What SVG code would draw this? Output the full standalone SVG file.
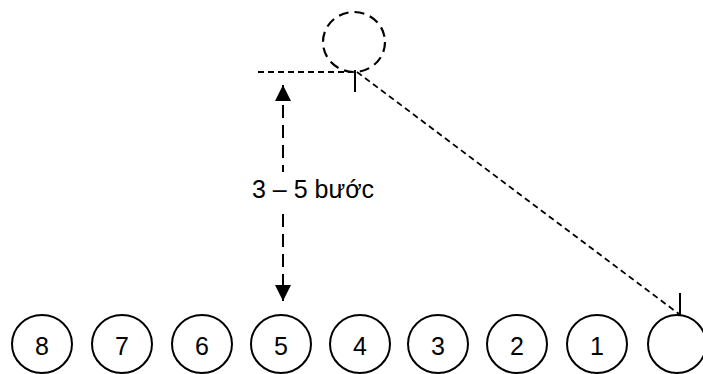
<svg xmlns="http://www.w3.org/2000/svg" width="703" height="374" viewBox="0 0 703 374">
<defs>
<style>
.n{fill:none;stroke:#000;stroke-width:2}
.t{font-family:"Liberation Sans",Arial,sans-serif;font-size:25px;fill:#000;text-anchor:middle}
.d{fill:none;stroke:#000;stroke-width:1.8;stroke-dasharray:6 4}
.v{fill:none;stroke:#000;stroke-width:2;stroke-dasharray:13 7}
.k{stroke:#000;stroke-width:2}
</style>
<marker id="ah" viewBox="0 0 16 16" refX="16" refY="8" markerWidth="16" markerHeight="16" markerUnits="userSpaceOnUse" orient="auto-start-reverse">
<path d="M0,0 L16,8 L0,16 Z" fill="#000"/>
</marker>
</defs>
<rect width="703" height="374" fill="#fff"/>
<g id="node-top"><ellipse cx="354" cy="42" rx="31" ry="30" fill="none" stroke="#000" stroke-width="2.2" stroke-dasharray="10 6"/></g>
<g id="node-8"><ellipse class="n" cx="42" cy="344" rx="30" ry="29"/><text class="t" x="42" y="355">8</text></g>
<g id="node-7"><ellipse class="n" cx="122" cy="344" rx="30" ry="29"/><text class="t" x="122" y="355">7</text></g>
<g id="node-6"><ellipse class="n" cx="202" cy="344" rx="30" ry="29"/><text class="t" x="202" y="355">6</text></g>
<g id="node-5"><ellipse class="n" cx="281" cy="344" rx="30" ry="29"/><text class="t" x="281" y="355">5</text></g>
<g id="node-4"><ellipse class="n" cx="360" cy="344" rx="30" ry="29"/><text class="t" x="360" y="355">4</text></g>
<g id="node-3"><ellipse class="n" cx="438" cy="344" rx="30" ry="29"/><text class="t" x="438" y="355">3</text></g>
<g id="node-2"><ellipse class="n" cx="517" cy="344" rx="30" ry="29"/><text class="t" x="517" y="355">2</text></g>
<g id="node-1"><ellipse class="n" cx="597" cy="344" rx="30" ry="29"/><text class="t" x="597" y="355">1</text></g>
<g id="node-0"><ellipse class="n" cx="677" cy="344" rx="29" ry="29"/></g>
<g id="connectors">
<line class="d" x1="258" y1="72" x2="352" y2="72"/>
<line class="k" x1="355" y1="70" x2="355" y2="92"/>
<line class="d" x1="357" y1="72" x2="679" y2="314"/>
<line class="k" x1="680" y1="293" x2="680" y2="315"/>
<line class="v" x1="283" y1="85" x2="283" y2="172" marker-start="url(#ah)"/>
<line class="v" x1="283" y1="214" x2="283" y2="301" marker-end="url(#ah)"/>
<text class="t" x="313" y="198">3 – 5 bước</text>
</g>
</svg>
